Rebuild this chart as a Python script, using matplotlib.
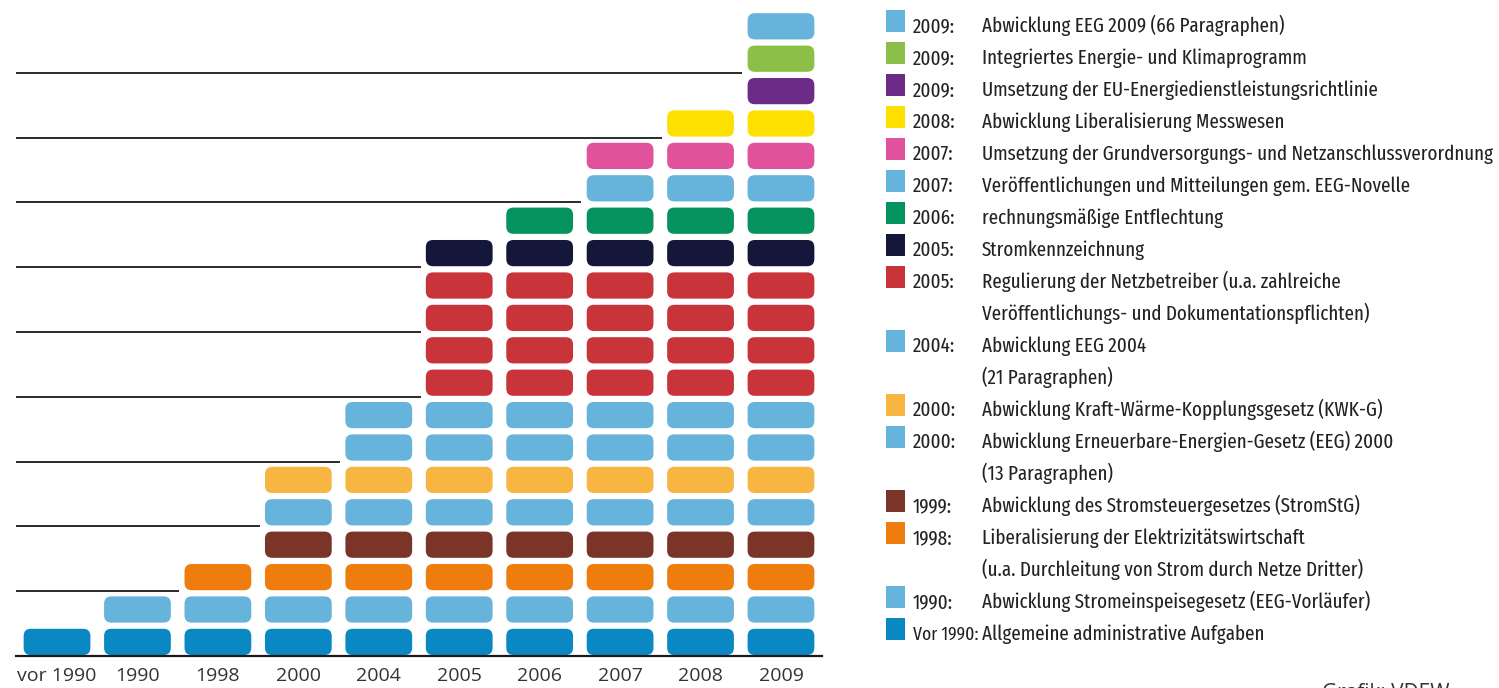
import matplotlib
matplotlib.use("Agg")
import matplotlib.pyplot as plt
from matplotlib import font_manager
from matplotlib.font_manager import FontProperties
from matplotlib.patches import FancyBboxPatch, Rectangle

# columns along the x axis and how many blocks each one stacks
columns = ["vor 1990", "1990", "1998", "2000", "2004", "2005", "2006", "2007", "2008", "2009"]
column_heights = [1, 2, 3, 6, 8, 13, 14, 16, 17, 20]

# legend entries, top to bottom (the stack is built from these in reverse)
legend_years = ["2009:", "2009:", "2009:", "2008:", "2007:", "2007:", "2006:", "2005:",
                "2005:", "2004:", "2000:", "2000:", "1999:", "1998:", "1990:", "Vor 1990:"]
legend_texts = [
    "Abwicklung EEG 2009 (66 Paragraphen)",
    "Integriertes Energie- und Klimaprogramm",
    "Umsetzung der EU-Energiedienstleistungsrichtlinie",
    "Abwicklung Liberalisierung Messwesen",
    "Umsetzung der Grundversorgungs- und Netzanschlussverordnung",
    "Veröffentlichungen und Mitteilungen gem. EEG-Novelle",
    "rechnungsmäßige Entflechtung",
    "Stromkennzeichnung",
    "Regulierung der Netzbetreiber (u.a. zahlreiche\nVeröffentlichungs- und Dokumentationspflichten)",
    "Abwicklung EEG 2004\n(21 Paragraphen)",
    "Abwicklung Kraft-Wärme-Kopplungsgesetz (KWK-G)",
    "Abwicklung Erneuerbare-Energien-Gesetz (EEG) 2000\n(13 Paragraphen)",
    "Abwicklung des Stromsteuergesetzes (StromStG)",
    "Liberalisierung der Elektrizitätswirtschaft\n(u.a. Durchleitung von Strom durch Netze Dritter)",
    "Abwicklung Stromeinspeisegesetz (EEG-Vorläufer)",
    "Allgemeine administrative Aufgaben",
]
legend_colors = ["#66b3dc", "#8cbf48", "#6b2b87", "#fee000", "#e0529b", "#66b3dc", "#04935f", "#14163a",
                 "#c8343a", "#66b3dc", "#f7b542", "#66b3dc", "#7a3428", "#ee7d0e", "#66b3dc", "#0a88c4"]
block_counts = [1, 1, 1, 1, 1, 1, 1, 1, 4, 2, 1, 1, 1, 1, 1, 1]

# bottom-to-top colour of every block level
stack_colors = []
for color, n in zip(reversed(legend_colors), reversed(block_counts)):
    stack_colors += [color] * n


def pick_narrow_font():
    # the original uses a condensed grotesque; take the narrowest plain sans face installed
    best, best_score = None, 0
    for f in font_manager.fontManager.ttflist:
        name = f.name.lower()
        fname = f.fname.lower().replace("-", "").replace("_", "").replace(" ", "")
        if "mono" in name or "mono" in fname or ("serif" in name and "sans" not in name):
            continue
        if f.style != "normal" or f.weight not in (400, "normal", "regular", "book"):
            continue
        if not ("narrow" in fname or "condensed" in fname or "narrow" in name
                or "condensed" in name or "condensed" in str(f.stretch)):
            continue
        score = 2
        if "extracondensed" in fname:
            score = 3
        elif "semicondensed" in fname or "semi" in str(f.stretch):
            score = 1
        if "sans" in name:
            score += 0.5
        if score > best_score:
            best, best_score = f, score
    if best is not None:
        return FontProperties(fname=best.fname)
    return FontProperties(family="Liberation Sans")


W, H = 1499, 688
PITCH = 32.4      # px per block level
BASE = 656        # px of the baseline from the top
fig = plt.figure(figsize=(W / 100, H / 100), dpi=100)

ax = fig.add_axes([16 / W, (H - BASE) / H, 806 / W, BASE / H])
ax.set_xlim(-0.51, 9.51)
ax.set_ylim(0, BASE / PITCH)

bw = 0.83
aspect = (806 / 10.02) / PITCH
for i, h in enumerate(column_heights):
    for lvl in range(h):
        ax.add_patch(FancyBboxPatch((i - bw / 2, lvl + 0.03), bw, 0.81,
                                    boxstyle="round,pad=0,rounding_size=0.09",
                                    mutation_aspect=aspect,
                                    facecolor=stack_colors[lvl], edgecolor="none"))

# guide lines every two levels, running up to the first taller column
for lvl in range(2, 20, 2):
    j = next(k for k, h in enumerate(column_heights) if h > lvl)
    ax.hlines(lvl, -0.51, j - 0.48, color="#2b2b2b", lw=1.4)

for s in ["top", "right", "left"]:
    ax.spines[s].set_visible(False)
ax.spines["bottom"].set_color("#1a1a1a")
ax.spines["bottom"].set_linewidth(1.6)
ax.set_yticks([])
ax.set_xticks(range(len(columns)), columns, fontsize=14, family="Open Sans", color="#333333")
ax.tick_params(axis="x", length=0, pad=8)

# legend drawn in pixel coordinates on the right
lg = fig.add_axes([850 / W, 0, 649 / W, 1])
lg.set_xlim(850, 1499)
lg.set_ylim(688, 0)
lg.axis("off")

fp = pick_narrow_font()
fp.set_size(20)
year_texts, desc_texts = [], []
row = 0
for year, text, color in zip(legend_years, legend_texts, legend_colors):
    lg.add_patch(Rectangle((886, 10 + 32 * row), 19, 22, facecolor=color, edgecolor="none"))
    year_texts.append(lg.text(913, 32 + 32 * row, year, fontproperties=fp, color="#222222", va="baseline"))
    for line in text.split("\n"):
        desc_texts.append(lg.text(982, 32 + 32 * row, line, fontproperties=fp, color="#222222", va="baseline"))
        row += 1

# scale the legend font so the widest line fills the space it has in the original
renderer = fig.canvas.get_renderer()
widest = max(t.get_window_extent(renderer).width for t in desc_texts)
size = min(24, 20 * 512 / widest)
for t in desc_texts:
    t.set_fontsize(size)
for t in year_texts:
    w = t.get_window_extent(renderer).width
    t.set_fontsize(min(size, 20 * 66 / w))

lg.text(1322, 683, "Grafik: VDEW", family="Open Sans", fontsize=15, color="#333333",
        va="top", clip_on=False)

fig.savefig("out.png", dpi=100)
